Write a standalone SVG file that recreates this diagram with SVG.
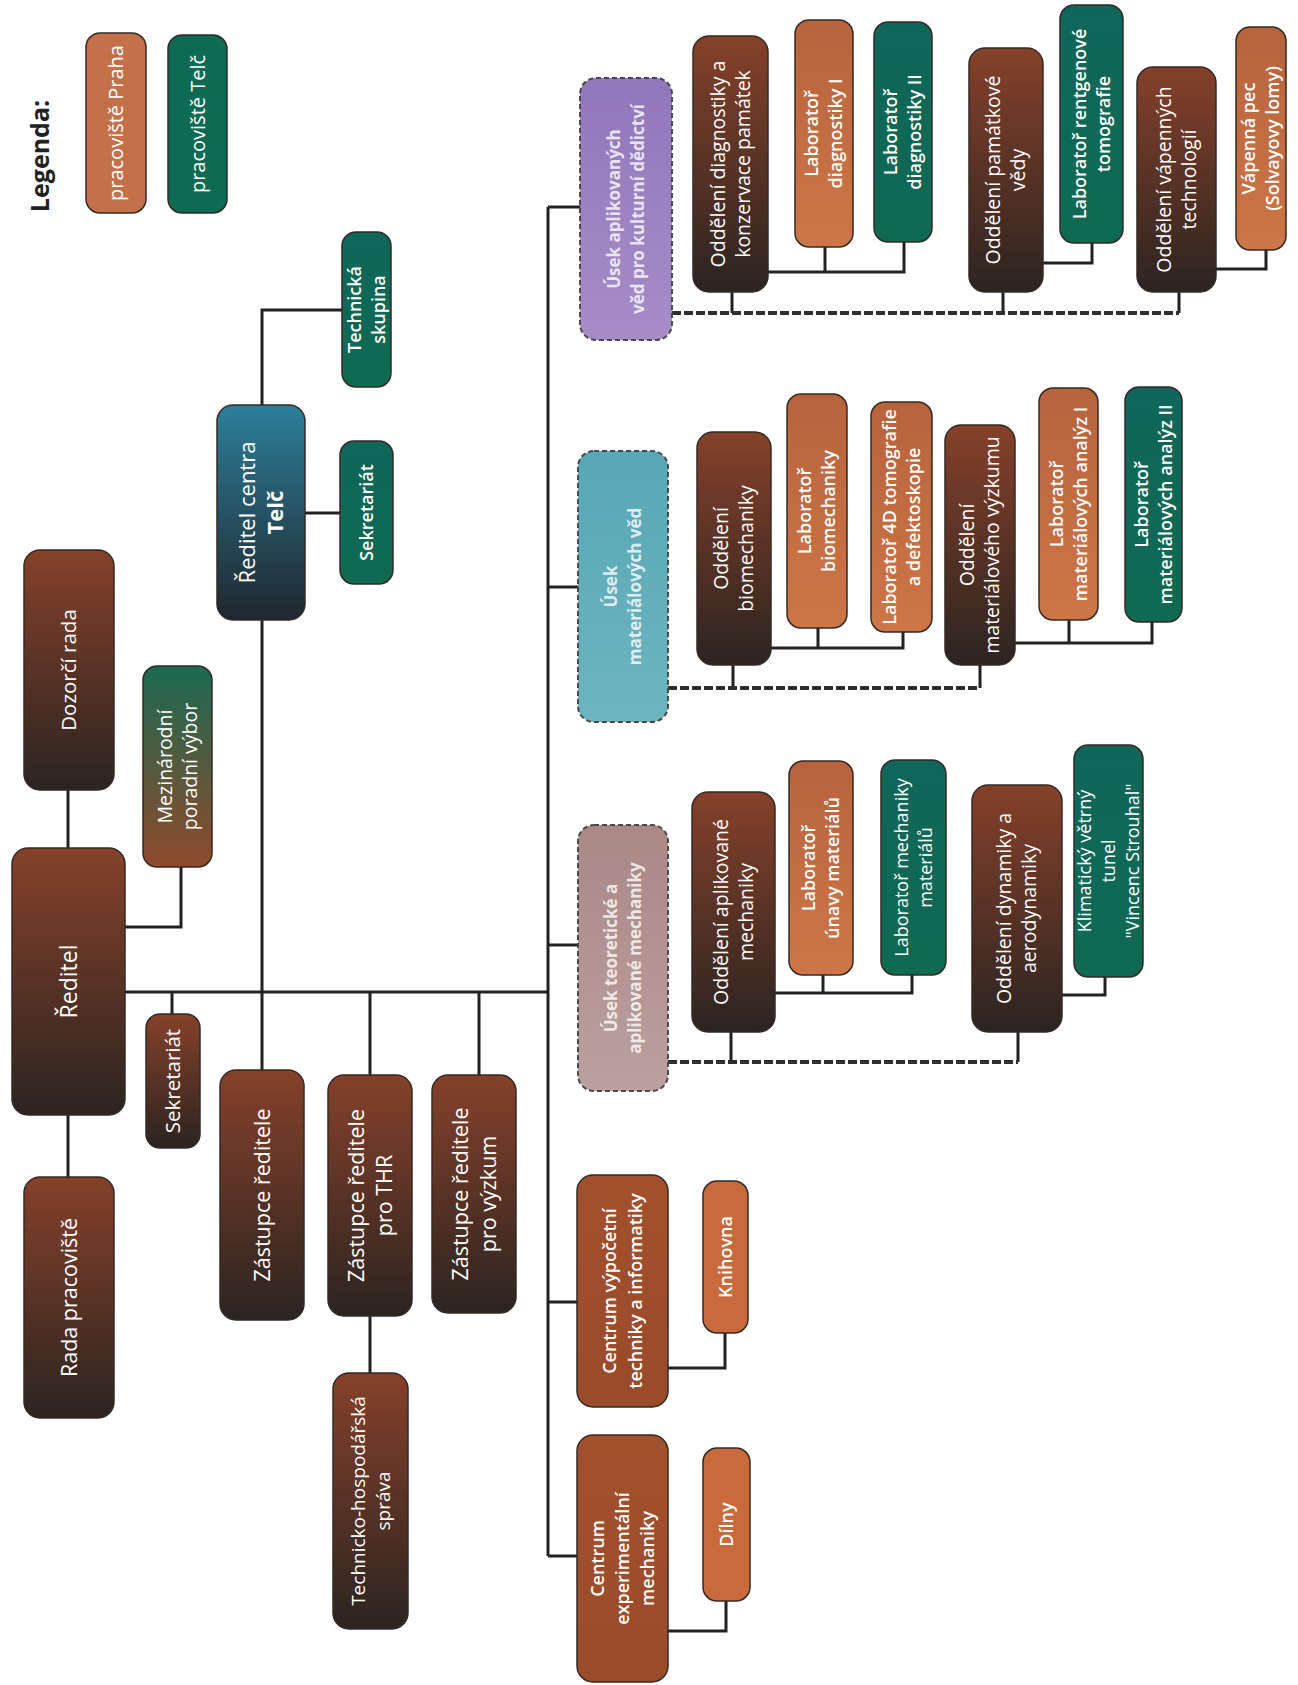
<svg xmlns="http://www.w3.org/2000/svg" width="1298" height="1685" viewBox="0 0 1298 1685">
<defs>
<linearGradient id="gB" x1="0" y1="0" x2="0" y2="1"><stop offset="0" stop-color="#86412a"/><stop offset="1" stop-color="#2b2421"/></linearGradient>
<linearGradient id="gO" x1="0" y1="0" x2="0" y2="1"><stop offset="0" stop-color="#b7633c"/><stop offset="1" stop-color="#cd7647"/></linearGradient>
<linearGradient id="gG" x1="0" y1="0" x2="0" y2="1"><stop offset="0" stop-color="#10665a"/><stop offset="1" stop-color="#0f6a52"/></linearGradient>
<linearGradient id="gT" x1="0" y1="0" x2="0" y2="1"><stop offset="0" stop-color="#2d7f9b"/><stop offset="1" stop-color="#1f272d"/></linearGradient>
<linearGradient id="gM" x1="0" y1="0" x2="0" y2="1"><stop offset="0" stop-color="#1a6a52"/><stop offset="1" stop-color="#904a2b"/></linearGradient>
<linearGradient id="gC" x1="0" y1="0" x2="0" y2="1"><stop offset="0" stop-color="#a2512e"/><stop offset="1" stop-color="#9a4b2a"/></linearGradient>
<linearGradient id="gP" x1="0" y1="0" x2="0" y2="1"><stop offset="0" stop-color="#9177bb"/><stop offset="1" stop-color="#a68dc8"/></linearGradient>
<linearGradient id="gA" x1="0" y1="0" x2="0" y2="1"><stop offset="0" stop-color="#57a7b6"/><stop offset="1" stop-color="#6db5c0"/></linearGradient>
<linearGradient id="gR" x1="0" y1="0" x2="0" y2="1"><stop offset="0" stop-color="#a98886"/><stop offset="1" stop-color="#bba09f"/></linearGradient>
</defs>
<style>
rect{stroke:#332a26;stroke-width:1.5}
rect.bg{stroke:none;fill:#fff}
.br{fill:url(#gB)}
.or{fill:url(#gO)}
.gr{fill:url(#gG)}
.ce{fill:url(#gC)}
.ki{fill:#c86a3c}
.us{stroke:#4a4a4a;stroke-width:2;stroke-dasharray:5 3}
text{font-family:"Open Sans","Liberation Sans",sans-serif;font-size:18px;fill:#fff;text-anchor:middle}
.sb{font-weight:600}
.m{font-size:19.5px}
.z{font-size:21.5px}
.ub{font-weight:700;fill-opacity:.8;font-size:17px}
.big{font-size:23px}
.lg{font-size:20px}
.leg{font-size:25px;font-weight:700;fill:#222}
.bold{font-weight:700}
#connectors path{fill:none;stroke:#222;stroke-width:3}
#connectors .d{stroke:#2e2e2e;stroke-width:4;stroke-dasharray:9 3}
</style>
<rect class="bg" x="0" y="0" width="1298" height="1685"/>

<g id="connectors">
<path d="M68,790V848M68,1115V1177"/>
<path d="M125,927H181V867"/>
<path d="M125,992H548"/>
<path d="M172,992V1014"/>
<path d="M262,620V1070"/>
<path d="M262,405V310H342"/>
<path d="M305,513H340"/>
<path d="M370,992V1075M370,1316V1373"/>
<path d="M479,992V1075"/>
<path d="M548,207V1556"/>
<path d="M548,207H580M548,587H578M548,945H578M548,1302H577M548,1556H577"/>
<path d="M668,1368H725V1333"/>
<path d="M668,1631H726V1601"/>
<path d="M768,272H904V242M825,272V247"/>
<path d="M1043,263H1092V243"/>
<path d="M1216,269H1266V250"/>
<path d="M732,292V313M1003,292V313M1179,292V313"/>
<path class="d" d="M672,313H1179"/>
<path d="M771,648H903V632M818,648V628"/>
<path d="M1015,643H1152V622M1069,643V620"/>
<path d="M733,665V688M980,665V688"/>
<path class="d" d="M668,688H980"/>
<path d="M775,993H912V975M823,993V975"/>
<path d="M1062,995H1105V977"/>
<path d="M731,1032V1062M1018,1032V1062"/>
<path class="d" d="M668,1062H1018"/>
</g>

<g id="legend-title"><text class="leg" transform="translate(41 156) rotate(-90)" y="8">Legenda:</text></g>
<g id="legend-praha"><rect x="86" y="33" width="60" height="180" rx="14" fill="#c4714a"/><text class="lg" transform="translate(116 123) rotate(-90)" y="7">pracoviště Praha</text></g>
<g id="legend-telc"><rect x="168" y="35" width="59" height="178" rx="14" fill="#0e6a52"/><text class="lg" transform="translate(197.5 124) rotate(-90)" y="7">pracoviště Telč</text></g>

<g id="dozorci-rada"><rect class="br" x="24" y="550" width="90" height="240" rx="16"/><text style="font-size:20.5px" transform="translate(69 670) rotate(-90)" y="7">Dozorčí rada</text></g>
<g id="reditel"><rect class="br" x="12" y="848" width="113" height="267" rx="16"/><text class="big" transform="translate(68.5 981.5) rotate(-90)" y="8">Ředitel</text></g>
<g id="rada-pracoviste"><rect class="br" x="24" y="1177" width="90" height="241" rx="16"/><text class="z" transform="translate(69 1297.5) rotate(-90)" y="7.5">Rada pracoviště</text></g>
<g id="mezinarodni"><rect x="143" y="666" width="69" height="201" rx="14" fill="url(#gM)"/><text class="m" transform="translate(177.5 766.5) rotate(-90)"><tspan x="0" y="-6">Mezinárodní</tspan><tspan x="0" y="19">poradní výbor</tspan></text></g>
<g id="sekretariat"><rect class="br" x="146" y="1014" width="54" height="134" rx="14"/><text style="font-size:20.5px" transform="translate(173 1081) rotate(-90)" y="7">Sekretariát</text></g>
<g id="zastupce"><rect class="br" x="220" y="1070" width="84" height="250" rx="16"/><text class="z" transform="translate(262 1195) rotate(-90)" y="7.5">Zástupce ředitele</text></g>
<g id="zastupce-thr"><rect class="br" x="328" y="1075" width="84" height="241" rx="16"/><text class="z" transform="translate(370 1195.5) rotate(-90)"><tspan x="0" y="-6.5">Zástupce ředitele</tspan><tspan x="0" y="21.5">pro THR</tspan></text></g>
<g id="ths"><rect class="br" x="333" y="1373" width="75" height="256" rx="16"/><text style="font-size:19px" transform="translate(370.5 1501) rotate(-90)"><tspan x="0" y="-6">Technicko-hospodářská</tspan><tspan x="0" y="19">správa</tspan></text></g>
<g id="zastupce-vyzkum"><rect class="br" x="432" y="1075" width="84" height="238" rx="16"/><text class="z" transform="translate(474 1194) rotate(-90)"><tspan x="0" y="-6.5">Zástupce ředitele</tspan><tspan x="0" y="21.5">pro výzkum</tspan></text></g>
<g id="reditel-telc"><rect x="217" y="405" width="88" height="215" rx="16" fill="url(#gT)"/><text style="font-size:22px" transform="translate(261 512.5) rotate(-90)"><tspan x="0" y="-6">Ředitel centra</tspan><tspan x="0" y="21.5" class="bold">Telč</tspan></text></g>
<g id="sekretariat-telc"><rect class="gr" x="340" y="441" width="53" height="143" rx="14"/><text class="sb" transform="translate(366.5 512.5) rotate(-90)" y="6">Sekretariát</text></g>
<g id="technicka-skupina"><rect class="gr" x="342" y="232" width="49" height="155" rx="14"/><text class="sb" transform="translate(366.5 309.5) rotate(-90)"><tspan x="0" y="-6">Technická</tspan><tspan x="0" y="18">skupina</tspan></text></g>

<g id="usek-apl"><rect class="us" x="580" y="78" width="92" height="262" rx="16" fill="url(#gP)"/><text class="ub" transform="translate(626 209) rotate(-90)"><tspan x="0" y="-6">Úsek aplikovaných</tspan><tspan x="0" y="18">věd pro kulturní dědictví</tspan></text></g>
<g id="usek-mat"><rect class="us" x="578" y="451" width="90" height="271" rx="16" fill="url(#gA)"/><text class="ub" transform="translate(623 586.5) rotate(-90)"><tspan x="0" y="-6">Úsek</tspan><tspan x="0" y="18">materiálových  věd</tspan></text></g>
<g id="usek-mech"><rect class="us" x="578" y="825" width="90" height="266" rx="16" fill="url(#gR)"/><text class="ub" transform="translate(623 958) rotate(-90)"><tspan x="0" y="-6">Úsek teoretické a</tspan><tspan x="0" y="18">aplikované mechaniky</tspan></text></g>
<g id="centrum-vyp"><rect class="ce" x="577" y="1175" width="91" height="232" rx="16"/><text class="sb" transform="translate(622.5 1291) rotate(-90)"><tspan x="0" y="-7">Centrum výpočetní</tspan><tspan x="0" y="19">techniky a informatiky</tspan></text></g>
<g id="knihovna"><rect class="ki" x="703" y="1181" width="45" height="152" rx="14"/><text class="sb" transform="translate(725.5 1257) rotate(-90)" y="6">Knihovna</text></g>
<g id="centrum-exp"><rect class="ce" x="577" y="1435" width="91" height="247" rx="16"/><text class="sb" transform="translate(622.5 1558.5) rotate(-90)"><tspan x="0" y="-19">Centrum</tspan><tspan x="0" y="6">experimentální</tspan><tspan x="0" y="31">mechaniky</tspan></text></g>
<g id="dilny"><rect class="ki" x="703" y="1448" width="47" height="153" rx="14"/><text class="sb" transform="translate(726.5 1524.5) rotate(-90)" y="6">Dílny</text></g>

<g id="odd-diag"><rect class="br" x="693" y="36" width="75" height="256" rx="16"/><text class="m" transform="translate(730.5 164) rotate(-90)"><tspan x="0" y="-6">Oddělení diagnostiky a</tspan><tspan x="0" y="19">konzervace památek</tspan></text></g>
<g id="lab-diag1"><rect class="or" x="795" y="20" width="58" height="227" rx="14"/><text class="sb" transform="translate(824 133.5) rotate(-90)"><tspan x="0" y="-6">Laboratoř</tspan><tspan x="0" y="18">diagnostiky I</tspan></text></g>
<g id="lab-diag2"><rect class="gr" x="874" y="22" width="58" height="220" rx="14"/><text class="sb" transform="translate(903 132) rotate(-90)"><tspan x="0" y="-6">Laboratoř</tspan><tspan x="0" y="18">diagnostiky II</tspan></text></g>
<g id="odd-pam"><rect class="br" x="969" y="48" width="74" height="244" rx="16"/><text class="m" transform="translate(1006 170) rotate(-90)"><tspan x="0" y="-6">Oddělení památkové</tspan><tspan x="0" y="19">vědy</tspan></text></g>
<g id="lab-rtg"><rect class="gr" x="1060" y="5" width="63" height="238" rx="14"/><text class="sb" transform="translate(1091.5 124) rotate(-90)"><tspan x="0" y="-6">Laboratoř rentgenové</tspan><tspan x="0" y="18">tomografie</tspan></text></g>
<g id="odd-vap"><rect class="br" x="1137" y="67" width="79" height="225" rx="16"/><text class="m" transform="translate(1176.5 179.5) rotate(-90)"><tspan x="0" y="-6">Oddělení vápenných</tspan><tspan x="0" y="19">technologií</tspan></text></g>
<g id="vap-pec"><rect class="or" x="1236" y="27" width="50" height="223" rx="14"/><text class="sb" transform="translate(1261 138.5) rotate(-90)"><tspan x="0" y="-6">Vápenná pec</tspan><tspan x="0" y="18">(Solvayovy lomy)</tspan></text></g>

<g id="odd-biomech"><rect class="br" x="697" y="432" width="74" height="233" rx="16"/><text class="m" transform="translate(734 548.5) rotate(-90)"><tspan x="0" y="-6">Oddělení</tspan><tspan x="0" y="19">biomechaniky</tspan></text></g>
<g id="lab-biomech"><rect class="or" x="787" y="394" width="60" height="234" rx="14"/><text class="sb" transform="translate(817 511) rotate(-90)"><tspan x="0" y="-6">Laboratoř</tspan><tspan x="0" y="18">biomechaniky</tspan></text></g>
<g id="lab-4d"><rect class="or" x="871" y="402" width="61" height="230" rx="14"/><text class="sb" transform="translate(901.5 517) rotate(-90)"><tspan x="0" y="-6">Laboratoř 4D tomografie</tspan><tspan x="0" y="18">a defektoskopie</tspan></text></g>
<g id="odd-mat"><rect class="br" x="945" y="425" width="70" height="240" rx="16"/><text class="m" transform="translate(980 545) rotate(-90)"><tspan x="0" y="-6">Oddělení</tspan><tspan x="0" y="19">materiálového výzkumu</tspan></text></g>
<g id="lab-an1"><rect class="or" x="1039" y="388" width="59" height="232" rx="14"/><text class="sb" transform="translate(1068.5 504) rotate(-90)"><tspan x="0" y="-6">Laboratoř</tspan><tspan x="0" y="18">materiálových analýz I</tspan></text></g>
<g id="lab-an2"><rect class="gr" x="1125" y="387" width="57" height="235" rx="14"/><text class="sb" transform="translate(1153.5 504.5) rotate(-90)"><tspan x="0" y="-6">Laboratoř</tspan><tspan x="0" y="18">materiálových analýz II</tspan></text></g>

<g id="odd-apl-mech"><rect class="br" x="692" y="792" width="83" height="240" rx="16"/><text class="m" transform="translate(733.5 912) rotate(-90)"><tspan x="0" y="-6">Oddělení aplikované</tspan><tspan x="0" y="19">mechaniky</tspan></text></g>
<g id="lab-unavy"><rect class="or" x="789" y="761" width="64" height="214" rx="14"/><text class="sb" transform="translate(821 868) rotate(-90)"><tspan x="0" y="-6">Laboratoř</tspan><tspan x="0" y="18">únavy materiálů</tspan></text></g>
<g id="lab-mech-mat"><rect class="gr" x="881" y="760" width="65" height="215" rx="14"/><text transform="translate(913.5 867.5) rotate(-90)"><tspan x="0" y="-6">Laboratoř  mechaniky</tspan><tspan x="0" y="18">materiálů</tspan></text></g>
<g id="odd-dyn"><rect class="br" x="972" y="785" width="90" height="247" rx="16"/><text class="m" transform="translate(1017 908.5) rotate(-90)"><tspan x="0" y="-6">Oddělení dynamiky a</tspan><tspan x="0" y="19">aerodynamiky</tspan></text></g>
<g id="tunel"><rect class="gr" x="1074" y="745" width="69" height="232" rx="14"/><text transform="translate(1108.5 861) rotate(-90)"><tspan x="0" y="-18">Klimatický větrný</tspan><tspan x="0" y="6">tunel</tspan><tspan x="0" y="30">"Vincenc Strouhal"</tspan></text></g>
</svg>
